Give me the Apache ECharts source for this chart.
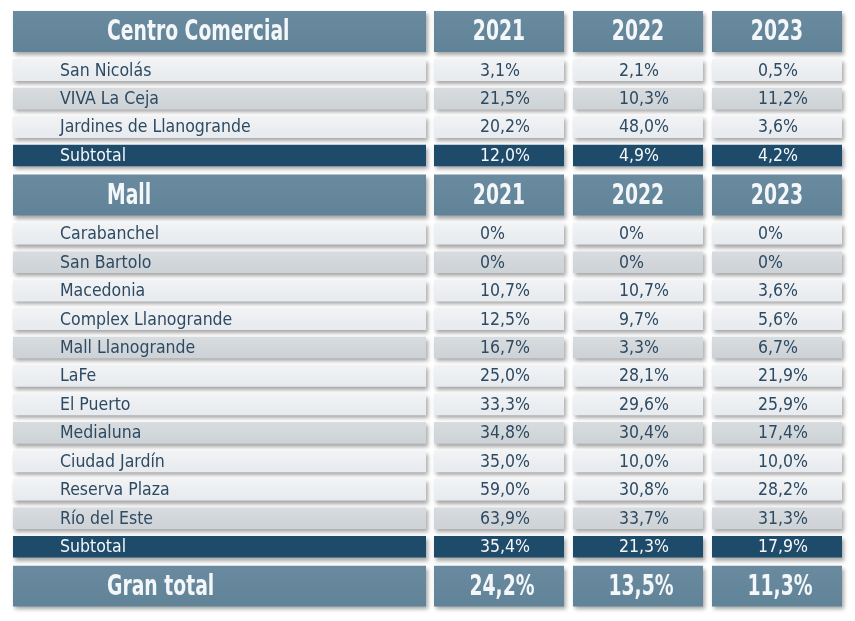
<!DOCTYPE html>
<html>
<head>
<meta charset="utf-8">
<script src="https://cdn.jsdelivr.net/npm/echarts@6/dist/echarts.min.js"></script>
<style>
    html, body { margin: 0; padding: 0; background: #fff; }
    #main { width: 855px; height: 621px; }
</style>
</head>
<body>
<div id="main"></div>
<script>
const years = ['2021', '2022', '2023']

const centroTitle = 'Centro Comercial'
const centroNames = ['San Nicolás', 'VIVA La Ceja', 'Jardines de Llanogrande']
const centro2021 = [3.1, 21.5, 20.2]
const centro2022 = [2.1, 10.3, 48.0]
const centro2023 = [0.5, 11.2, 3.6]
const centroSubtotal = [12.0, 4.9, 4.2]

const mallTitle = 'Mall'
const mallNames = ['Carabanchel', 'San Bartolo', 'Macedonia', 'Complex Llanogrande', 'Mall Llanogrande',
    'LaFe', 'El Puerto', 'Medialuna', 'Ciudad Jardín', 'Reserva Plaza', 'Río del Este']
const mall2021 = [0, 0, 10.7, 12.5, 16.7, 25.0, 33.3, 34.8, 35.0, 59.0, 63.9]
const mall2022 = [0, 0, 10.7, 9.7, 3.3, 28.1, 29.6, 30.4, 10.0, 30.8, 33.7]
const mall2023 = [0, 0, 3.6, 5.6, 6.7, 21.9, 25.9, 17.4, 10.0, 28.2, 31.3]
const mallSubtotal = [35.4, 21.3, 17.9]

const granTotalLabel = 'Gran total'
const granTotal = [24.2, 13.5, 11.3]

// layout: row slot / row height in axis units
const SLOT = { head: 1.7, row: 1, sub: 1.05, total: 1.43 }
const HEIGHT = { head: 1.44, row: 0.76, sub: 0.76, total: 1.43 }
const GAP = 9

// no narrow bold font installed, so the bold condensed face is squeezed with scaleX
const BOLD = 'bold 29px "DejaVu Sans Condensed", "DejaVu Sans", sans-serif'
const BOLD_SCALE = 0.72
const LIGHT = '17px "DejaVu Sans Condensed", "DejaVu Sans", sans-serif'
const LIGHT_SCALE = 1.03

const pct = (v) => v === 0 ? '0%' : v.toFixed(1).replace('.', ',') + '%'

const buildRows = () => {
    let rows = []
    const section = (title, names, v1, v2, v3, sub) => {
        rows.push({ kind: 'head', label: title, values: years })
        names.forEach((n, i) => {
            rows.push({ kind: 'row', label: n, values: [v1[i], v2[i], v3[i]].map(pct), shade: i % 3 === 1 })
        })
        rows.push({ kind: 'sub', label: 'Subtotal', values: sub.map(pct) })
    }
    section(centroTitle, centroNames, centro2021, centro2022, centro2023, centroSubtotal)
    section(mallTitle, mallNames, mall2021, mall2022, mall2023, mallSubtotal)
    rows.push({ kind: 'total', label: granTotalLabel, values: granTotal.map(pct) })

    let top = 0
    rows.forEach(r => {
        r.top = top
        top += SLOT[r.kind]
    })
    return rows
}

const rows = buildRows()

const labelCells = rows.map(r => ({ row: r, col: 0, text: r.label, isLabel: true }))
const valueCells = []
rows.forEach(r => {
    r.values.forEach((t, c) => valueCells.push({ row: r, col: c, text: t, isLabel: false }))
})

const cellFill = (row) => {
    if (row.kind === 'head' || row.kind === 'total') {
        return new echarts.graphic.LinearGradient(0, 0, 0, 1, [
            { offset: 0, color: '#6A8B9F' }, { offset: 1, color: '#618397' }
        ])
    }
    if (row.kind === 'sub') return '#1F4B6B'
    if (row.shade) {
        return new echarts.graphic.LinearGradient(0, 0, 0, 1, [
            { offset: 0, color: '#D8DCDF' }, { offset: 1, color: '#CDD2D6' }
        ])
    }
    return new echarts.graphic.LinearGradient(0, 0, 0, 1, [
        { offset: 0, color: '#F1F3F5' }, { offset: 1, color: '#E7EAEE' }
    ])
}

const renderCell = (list) => (params, api) => {
    const cell = list[params.dataIndex]
    const row = cell.row
    const p = api.coord([api.value(0), api.value(1)])
    const s = api.size([1, api.value(2)])
    const w = s[0] - GAP
    const h = s[1]
    const x = p[0] - w / 2
    const y = p[1]
    const big = row.kind === 'head' || row.kind === 'total'

    let tx, align
    if (cell.isLabel) {
        tx = x + (big ? 94 : 47)
        align = 'left'
    } else if (big) {
        tx = p[0] + (row.kind === 'total' ? 3 : 0)
        align = 'center'
    } else {
        tx = x + 46
        align = 'left'
    }
    const color = (big || row.kind === 'sub') ? '#F4F7F9' : '#2D4A62'

    return {
        type: 'group',
        children: [{
            type: 'rect',
            shape: { x, y, width: w, height: h },
            style: {
                fill: cellFill(row),
                shadowBlur: 4,
                shadowOffsetX: 2,
                shadowOffsetY: 3,
                shadowColor: 'rgba(0,0,0,0.35)'
            }
        }, {
            type: 'text',
            x: tx,
            y: y + h / 2 + 1,
            scaleX: big ? BOLD_SCALE : LIGHT_SCALE,
            style: {
                text: cell.text,
                x: 0,
                y: 0,
                font: big ? BOLD : LIGHT,
                fill: color,
                align,
                verticalAlign: 'middle',
                textAlign: align,
                textVerticalAlign: 'middle'
            }
        }]
    }
}

const totalUnits = 21
const unitPx = 28.45

const chart = echarts.init(document.getElementById('main'))
chart.setOption({
    animation: false,
    grid: [
        { left: 8.5, top: 11, width: 422, height: totalUnits * unitPx },
        { left: 429.5, top: 11, width: 417, height: totalUnits * unitPx }
    ],
    xAxis: [
        { type: 'category', gridIndex: 0, data: ['label'], show: false },
        { type: 'category', gridIndex: 1, data: years, show: false }
    ],
    yAxis: [
        { type: 'value', gridIndex: 0, min: 0, max: totalUnits, inverse: true, show: false },
        { type: 'value', gridIndex: 1, min: 0, max: totalUnits, inverse: true, show: false }
    ],
    series: [{
        type: 'custom',
        xAxisIndex: 0,
        yAxisIndex: 0,
        silent: true,
        renderItem: renderCell(labelCells),
        data: labelCells.map(c => [c.col, c.row.top, HEIGHT[c.row.kind]])
    }, {
        type: 'custom',
        xAxisIndex: 1,
        yAxisIndex: 1,
        silent: true,
        renderItem: renderCell(valueCells),
        data: valueCells.map(c => [c.col, c.row.top, HEIGHT[c.row.kind]])
    }]
})
</script>
</body>
</html>
